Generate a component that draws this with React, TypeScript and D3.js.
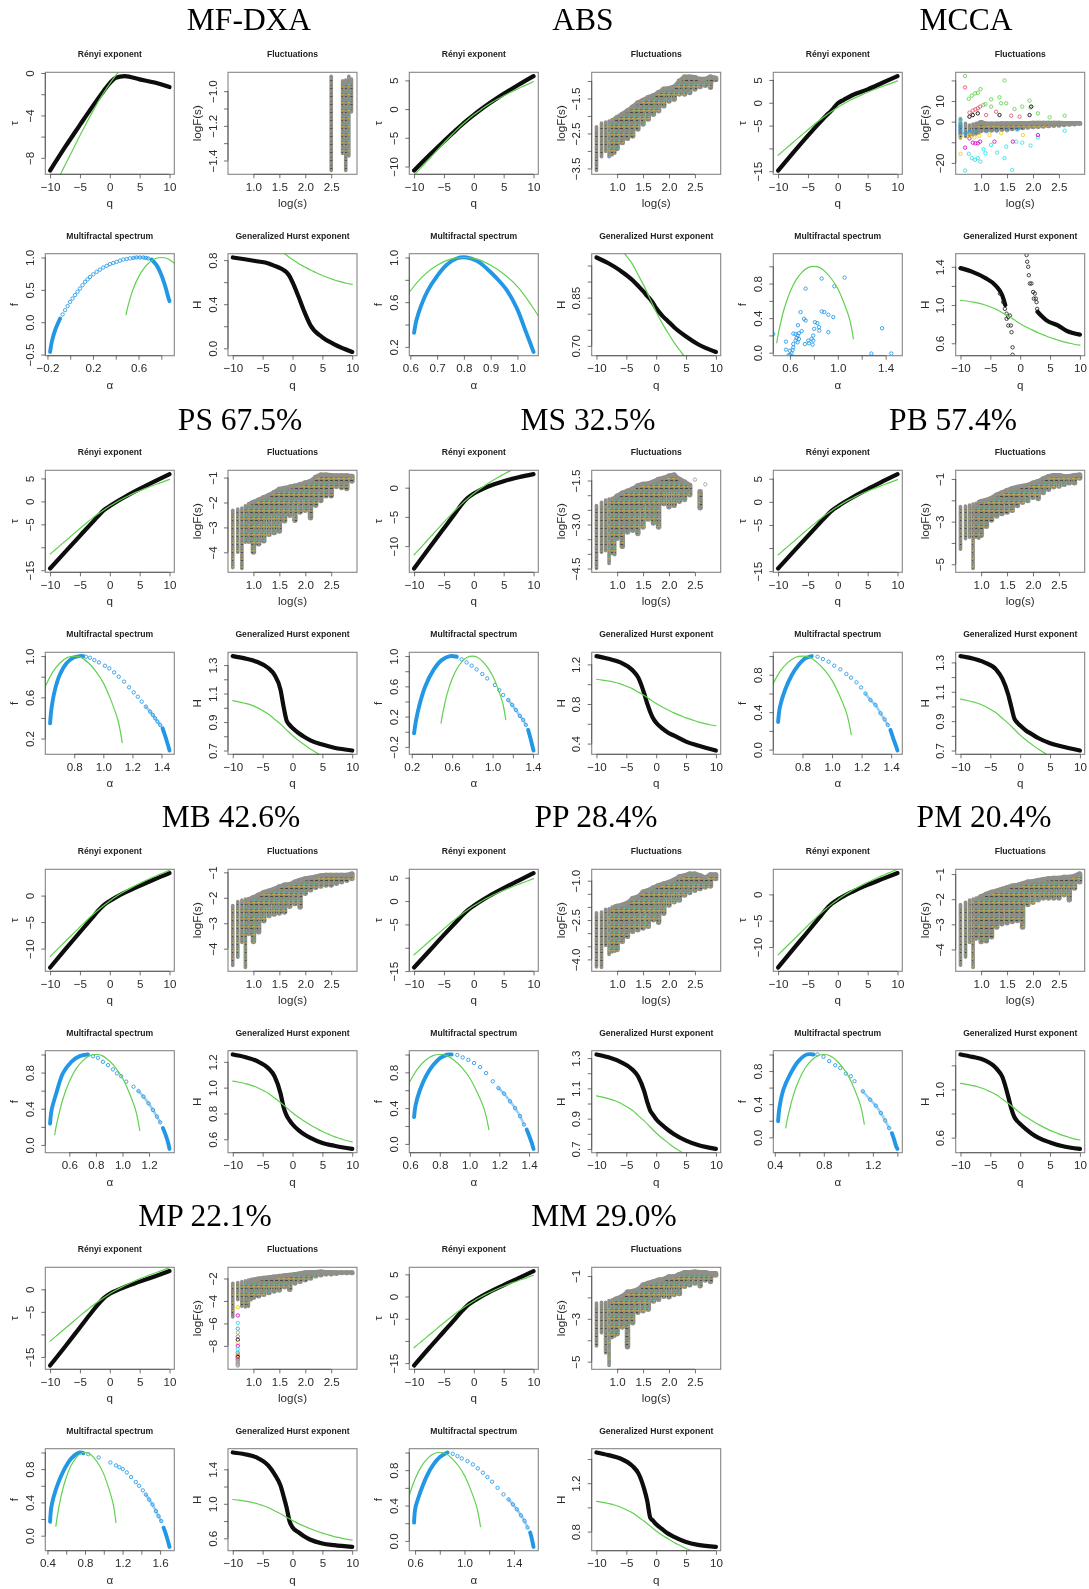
import React, { useEffect, useRef } from 'react';
import * as d3 from 'd3';

// R's default palette, the plots use it for rings and reference lines
const PALETTE = ['#000000', '#DF536B', '#61D04F', '#2297E6', '#28E2E5', '#CD0BBC', '#F5C710', '#9E9E9E'];

// ---- grids the curves are read on
const Q_HURST = [-10, -8, -6, -4, -3, -2, -1.5, -1, -0.5, 0, 1, 2, 3, 5, 7, 10];
const Q_TAU = [-10, -7.5, -5, -3, -2, -1, 0, 1, 2.5, 5, 7.5, 10];
const Q_REF = [-10, -9, -8, -7, -6, -5, -4, -3, -2, -1, 0, 1, 2, 3, 4, 5, 6, 7, 8, 9, 10];
const LOG_S = [0.602, 0.699, 0.778, 0.845, 0.903, 0.954, 1.0, 1.1, 1.2, 1.3, 1.4, 1.5, 1.6, 1.7, 1.8, 1.9, 2.0, 2.1, 2.2, 2.3, 2.4, 2.5, 2.6, 2.7, 2.8, 2.9];
const LOG_S_RANGE = [0.602, 2.905];

// ---- green reference curves, the same in every group
const REF_H = [1.05, 1.042, 1.032, 1.02, 1.003, 0.98, 0.955, 0.92, 0.885, 0.845, 0.805, 0.77, 0.74, 0.71, 0.685, 0.66, 0.64, 0.62, 0.605, 0.59, 0.58];
const REF_TAU = [-11.5, -10.38, -9.26, -8.14, -7.02, -5.9, -4.82, -3.76, -2.77, -1.855, -1.0, -0.23, 0.48, 1.13, 1.74, 2.3, 2.84, 3.34, 3.84, 4.31, 4.8];
const REF_ALPHA = [0.49, 0.5, 0.52, 0.55, 0.6, 0.65, 0.7, 0.75, 0.8, 0.85, 0.9, 0.95, 1.0, 1.05, 1.1, 1.13];
const REF_F = [0.115, 0.2, 0.33, 0.5, 0.7, 0.84, 0.93, 0.985, 1.0, 0.985, 0.93, 0.85, 0.74, 0.58, 0.38, 0.16];

// ---- MF-DXA
const MFDXA_TAU = [-9.2, -7.0, -4.9, -3.24, -2.44, -1.67, -0.95, -0.45, -0.29, -0.6, -0.9, -1.33];
const MFDXA_H = [0.824, 0.808, 0.79, 0.77, 0.748, 0.725, 0.71, 0.69, 0.655, 0.6, 0.47, 0.33, 0.21, 0.1, 0.036, -0.033];
const MFDXA_LOGS = [2.5, 2.72, 2.78, 2.84, 2.89];
const MFDXA_HI = [-0.913, -0.94, -0.935, -0.913, -0.93];
const MFDXA_LO = [-1.458, -1.36, -1.458, -1.375, -1.12];
const MFDXA_BAND_A = [-0.177, -0.162, -0.133, -0.089, NaN, 0.714, 0.758, 0.801, 0.836, 0.86, 0.872];
const MFDXA_BAND_F = [-0.459, -0.304, -0.124, 0.057, NaN, 0.969, 0.881, 0.727, 0.546, 0.392, 0.325];
const MFDXA_RING_A = [-0.067, -0.045, -0.023, -0.001, 0.02, 0.042, 0.064, 0.086, 0.108, 0.13, 0.152, 0.174, 0.203, 0.232, 0.261, 0.29, 0.32, 0.349, 0.378, 0.407, 0.437, 0.466, 0.495, 0.524, 0.553, 0.582, 0.612, 0.641, 0.663, 0.685];
const MFDXA_RING_F = [0.12, 0.186, 0.25, 0.314, 0.366, 0.418, 0.47, 0.52, 0.572, 0.624, 0.662, 0.7, 0.74, 0.778, 0.812, 0.845, 0.871, 0.897, 0.915, 0.933, 0.951, 0.969, 0.977, 0.985, 0.993, 1.0, 1.0, 1.0, 0.993, 0.985];

// ---- ABS
const ABS_TAU = [-10.7, -8.09, -5.6, -3.66, -2.73, -1.845, -1.0, -0.206, 0.92, 2.65, 4.25, 5.75];
const ABS_H = [0.975, 0.957, 0.934, 0.905, 0.886, 0.866, 0.855, 0.845, 0.832, 0.817, 0.794, 0.776, 0.758, 0.729, 0.705, 0.681];
const ABS_HI = [-2.31, -2.2, -2.17, -2.14, -2.1, -2.07, -2.02, -1.93, -1.83, -1.72, -1.6, -1.53, -1.45, -1.4, -1.31, -1.21, -1.19, -1.15, -0.98, -0.86, -0.86, -0.88, -0.93, -0.93, -0.86, -0.9];
const ABS_LO = [-3.56, -3.17, -3.02, -3.17, -3.12, -3.07, -2.96, -2.79, -2.67, -2.6, -2.4, -2.26, -2.12, -1.98, -1.88, -1.74, -1.6, -1.55, -1.4, -1.4, -1.36, -1.26, -1.19, -1.15, -1.21, -0.99];
const ABS_BAND_A = [0.614, 0.623, 0.641, 0.666, 0.698, 0.735, 0.773, 0.81, 0.848, 0.885, 0.923, 0.96, 0.998, 1.029, 1.048, 1.06];
const ABS_BAND_F = [0.327, 0.44, 0.574, 0.708, 0.827, 0.932, 0.991, 1.0, 0.97, 0.902, 0.813, 0.708, 0.545, 0.351, 0.232, 0.155];

// ---- MCCA
const MCCA_TAU = [-14.85, -10.98, -7.2, -4.3, -2.9, -1.6, -0.1, 0.65, 1.7, 2.93, 4.39, 5.85];
const MCCA_H_Q = [-10, -8, -6, -4, -3, -2.5, NaN, 2.9, 3.5, 4.4, 6.3, 7.7, 10];
const MCCA_H = [1.386, 1.347, 1.288, 1.196, 1.1, 1.0, NaN, 0.93, 0.89, 0.84, 0.787, 0.733, 0.69];
const MCCA_H_RING_Q = [-3.4, -2.84, -2.56, -2.28, -2, -1.73, -2.28, -2, -1.56, -1.45, -1.28, -1.28, 1.06, 1.17, 1.34, 1.45, 1.62, 1.89, 2.17, 2.28, 2.62, 2.73, 2.84, 2.45];
const MCCA_H_RING = [1.12, 1.03, 0.96, 0.91, 0.874, 0.89, 0.856, 0.786, 0.786, 0.716, 0.558, 0.48, 1.523, 1.453, 1.4, 1.312, 1.225, 1.225, 1.137, 1.067, 1.067, 1.03, 0.96, 1.12];
const MCCA_H_USR = [0.47, 1.537];
const MCCA_HI = [1.6, -0.8, -1.6, -1.1, -0.8, -0.5, 0, -0.8, -0.7, -0.7, -0.6, -0.6, -0.6, -0.5, -0.5, -0.5, -0.4, -0.4, -0.4, -0.4, -0.4, -0.4, -0.5, -0.5, -0.5, -0.5];
const MCCA_LO = [-8, -7.2, -6.8, -6.5, -6, -5.4, -4.8, -4.6, -4.5, -4.3, -4.2, -4, -3.8, -3.6, -3.4, -3.1, -2.9, -2.8, -2.6, -2.4, -2.2, -2.1, -1.9, -1.7, -1.5, -1.3];
const MCCA_GREEN_S = [0.691, 0.762, 0.82, 0.884, 0.936, 0.987, 1.045, 1.084, 1.193, 1.193, 1.354, 1.386, 1.483, 1.451, 1.644, 1.792, 1.934, 1.953, 2.095, 2.32, 2.61];
const MCCA_GREEN_F = [22.1, 11.1, 12.6, 13.7, 14.0, 15.8, 8.1, 8.5, 10.8, 7.3, 11.8, 8.9, 8.9, 20.0, 6.1, 7.3, 10.2, 6.9, 4.0, 2.1, 2.9];
const MCCA_RED_S = [0.691, 0.775, 0.839, 0.891, 0.936, 0.981, 1.097, 1.29, 1.58, 1.741];
const MCCA_RED_F = [16.6, 4.4, 5.3, 6.0, 6.5, 7.3, 3.2, 4.8, 2.9, 2.4];
const MCCA_BLACK_S = [0.775, 0.839, 0.936, 1.354, 1.966, 1.934];
const MCCA_BLACK_F = [2.4, 3.2, 4.0, 3.2, 7.3, 3.2];
const MCCA_CYAN_S = [0.602, 0.602, 0.691, 0.762, 0.82, 0.884, 0.936, 0.987, 1.045, 1.084, 1.193, 1.309, 1.451, 1.483, 1.676, 1.792, 1.953, 1.599, 2.095, 2.61];
const MCCA_CYAN_F = [1.0, -0.6, -23.7, -15.6, -17.7, -18.5, -17.7, -19.4, -13.4, -15.3, -11.3, -15, -17.7, -12.1, -9.7, -10.2, -11.6, -23.4, -7.6, -4.4];
const MCCA_BLUE_S = [0.602, 0.602, 0.602, 0.602, 0.602, 0.699, 0.778, 0.903, 1.1, 1.3, 1.5, 1.7];
const MCCA_BLUE_F = [-1.8, -2.8, -3.8, -4.8, -5.8, -5.5, -5, -4.8, -4.6, -4.4, -4.2, -3.8];
const MCCA_MAGENTA_S = [0.691, 0.775, 0.839, 0.891, 0.936, 0.981, 1.258, 1.612, 2.095];
const MCCA_MAGENTA_F = [-12.6, -8.1, -10.2, -10.5, -10.5, -9.7, -9.7, -9.7, -6.5];
const MCCA_YELLOW_S = [0.602, 0.602, 0.775, 0.871, 0.968, 1.161, 1.386, 1.805];
const MCCA_YELLOW_F = [-15.6, -7.2, -6.5, -7.6, -6.9, -6.5, -5.6, -6.5];
const MCCA_RING_A = [0.46, 0.567, 0.567, 0.6, 0.589, 0.731, 0.865, 1.057, 0.971, 0.689, 0.717, 0.731, 0.667, 1.447, 1.28, 1.37, 0.759, 0.725, 0.753, 0.781, 0.795, 0.803, 0.809, 0.829, 0.845, 0.843, 0.865, 0.887, 0.921, 0.962, 0.921, 0.795, 0.79, 0.628, 0.622, 0.614, 0.628, 0.647, 0.656, 0.675, 0.664, 0.628, 0.647, 0.675, 0.698, 0.664, 0.6];
const MCCA_RING_F = [0.217, 0.128, 0.035, 0.023, -0.03, 0.742, 0.858, 0.87, 0.769, 0.47, 0.392, 0.373, 0.318, -0.01, -0.01, 0.283, 0.109, 0.1, 0.14, 0.16, 0.198, 0.276, 0.353, 0.342, 0.256, 0.295, 0.478, 0.47, 0.439, 0.412, 0.237, 0.14, 0.093, 0.062, 0.031, -0.008, 0.1, 0.14, 0.171, 0.159, 0.12, 0.221, 0.217, 0.225, 0.249, 0.198, -0.023];
const MCCA_ALPHA_USR = [0.461, 1.539];
const MCCA_F_USR = [-0.035, 1.146];

// ---- PS 67.5%
const PS_TAU = [-14.63, -11.05, -7.5, -4.69, -3.25, -1.91, -1.0, -0.18, 0.96, 2.71, 4.36, 5.95];
const PS_H = [1.363, 1.347, 1.323, 1.277, 1.23, 1.126, 1.01, 0.912, 0.88, 0.858, 0.823, 0.795, 0.772, 0.742, 0.719, 0.7];
const PS_HI = [-2.31, -2.26, -2.22, -2.13, -2.05, -2.0, -1.96, -1.87, -1.77, -1.68, -1.57, -1.44, -1.4, -1.35, -1.31, -1.25, -1.18, -1.12, -0.96, -0.86, -0.86, -0.88, -0.89, -0.89, -0.89, -0.92];
const PS_LO = [-4.62, -4.0, -4.65, -3.6, -3.6, -3.6, -4.03, -3.7, -3.58, -3.32, -3.25, -3.19, -2.78, -2.55, -2.75, -2.42, -2.35, -2.65, -2.15, -1.96, -1.77, -1.77, -1.4, -1.44, -1.48, -1.18];
const PS_BAND_A = [0.634, 0.644, 0.667, 0.7, 0.747, 0.793, 0.839, 0.862, NaN, 1.407, 1.421, 1.437, 1.455];
const PS_BAND_F = [0.348, 0.494, 0.67, 0.816, 0.93, 0.984, 1.0, 1.0, NaN, 0.3, 0.242, 0.171, 0.084];
const PS_RING_A = [0.88, 0.908, 0.938, 0.97, 1.011, 1.041, 1.074, 1.106, 1.143, 1.177, 1.209, 1.237, 1.264, 1.292, 1.322, 1.34, 1.356, 1.372, 1.391];
const PS_RING_F = [0.994, 0.984, 0.961, 0.939, 0.906, 0.881, 0.842, 0.8, 0.752, 0.697, 0.648, 0.606, 0.558, 0.51, 0.461, 0.429, 0.397, 0.365, 0.332];

// ---- MS 32.5%
const MS_TAU = [-13.84, -10.37, -6.95, -4.2, -2.81, -1.72, -1.0, -0.45, 0.24, 1.1, 1.78, 2.33];
const MS_H = [1.284, 1.257, 1.22, 1.143, 1.066, 0.904, 0.803, 0.72, 0.653, 0.61, 0.553, 0.51, 0.48, 0.42, 0.38, 0.33];
const MS_HI = [-2.35, -2.24, -2.16, -2.13, -2.1, -2.07, -2.0, -1.9, -1.83, -1.76, -1.65, -1.6, -1.58, -1.52, -1.43, -1.39, -1.32, -1.28, -1.43, -1.52, -1.63, -1.47, -1.85, -1.63, NaN, NaN];
const MS_LO = [-4.5, -3.95, -3.9, -4.33, -4.0, -4.03, -3.5, -3.78, -3.29, -3.23, -3.34, -3.12, -2.85, -2.98, -3.12, -2.32, -2.43, -2.38, -2.24, -2.18, -2.02, -1.47, -2.46, -1.63, NaN, NaN];
const MS_BAND_A = [0.223, 0.24, 0.276, 0.332, 0.414, 0.496, 0.58, 0.645, NaN, 1.352, 1.375, 1.395, 1.405];
const MS_BAND_F = [-0.02, 0.134, 0.354, 0.596, 0.815, 0.947, 1.0, 0.991, NaN, 0.024, -0.086, -0.196, -0.248];
const MS_RING_A = [0.694, 0.743, 0.793, 0.842, 0.898, 0.947, 1.023, 1.066, 1.105, 1.155, 1.194, 1.23, 1.27, 1.303, 1.329];
const MS_RING_F = [0.956, 0.916, 0.873, 0.824, 0.763, 0.705, 0.618, 0.552, 0.486, 0.42, 0.354, 0.288, 0.209, 0.156, 0.09];

// ---- PB 57.4%
const PB_TAU = [-14.43, -10.9, -7.38, -4.57, -3.16, -1.92, -1.0, -0.165, 0.99, 2.75, 4.4, 6.0];
const PB_H = [1.343, 1.327, 1.3, 1.25, 1.19, 1.08, 1.0, 0.92, 0.89, 0.87, 0.835, 0.81, 0.785, 0.75, 0.727, 0.7];
const PB_HI = [-2.29, -2.26, -2.22, -2.17, -2.14, -2.06, -2.02, -1.96, -1.87, -1.71, -1.61, -1.5, -1.41, -1.35, -1.3, -1.26, -1.15, -1.08, -0.95, -0.85, -0.8, -0.8, -0.85, -0.85, -0.8, -0.77];
const PB_LO = [-4.3, -3.81, -3.74, -5.2, -3.74, -3.78, -3.69, -3.27, -2.97, -2.78, -2.67, -2.6, -2.52, -2.29, -2.14, -2.06, -1.91, -1.96, -1.68, -1.53, -1.41, -1.38, -1.3, -1.23, -1.23, -1.0];
const PB_BAND_A = [0.635, 0.648, 0.682, 0.728, 0.773, 0.818, 0.863, NaN, 1.395, 1.414, 1.43, 1.443];
const PB_BAND_F = [0.295, 0.46, 0.637, 0.797, 0.904, 0.975, 1.0, NaN, 0.21, 0.12, 0.05, -0.01];
const PB_RING_A = [0.902, 0.938, 0.977, 1.015, 1.056, 1.097, 1.128, 1.165, 1.196, 1.226, 1.26, 1.294, 1.328, 1.355, 1.377];
const PB_RING_F = [0.993, 0.968, 0.94, 0.897, 0.858, 0.808, 0.769, 0.719, 0.665, 0.6, 0.53, 0.477, 0.388, 0.324, 0.263];

// ---- MB 42.6%
const MB_TAU = [-13.57, -10.2, -6.9, -4.26, -2.91, -1.785, -1.0, -0.33, 0.55, 1.85, 3.09, 4.25];
const MB_H = [1.257, 1.238, 1.207, 1.148, 1.088, 0.955, 0.85, 0.785, 0.747, 0.716, 0.67, 0.636, 0.61, 0.57, 0.55, 0.525];
const MB_HI = [-2.3, -2.14, -2.09, -2.05, -2.03, -2.0, -1.96, -1.86, -1.76, -1.7, -1.63, -1.54, -1.47, -1.45, -1.35, -1.28, -1.22, -1.19, -1.15, -1.1, -1.08, -1.08, -1.08, -1.08, -1.08, -1.03];
const MB_LO = [-4.66, -4.34, -3.76, -4.74, -3.44, -3.44, -3.76, -3.38, -2.94, -2.74, -2.68, -2.64, -2.6, -2.37, -2.27, -2.4, -1.86, -1.73, -1.63, -1.58, -1.54, -1.54, -1.47, -1.41, -1.35, -1.28];
const MB_BAND_A = [0.455, 0.467, 0.502, 0.552, 0.615, 0.678, 0.74, NaN, 1.304, 1.324, 1.344, 1.354];
const MB_BAND_F = [0.235, 0.39, 0.573, 0.794, 0.919, 0.982, 1.0, NaN, 0.187, 0.114, 0.022, -0.044];
const MB_RING_A = [0.778, 0.815, 0.853, 0.891, 0.928, 0.958, 0.99, 1.028, 1.083, 1.12, 1.158, 1.196, 1.229, 1.259, 1.284];
const MB_RING_F = [0.98, 0.963, 0.919, 0.882, 0.835, 0.791, 0.76, 0.7, 0.644, 0.596, 0.534, 0.46, 0.387, 0.314, 0.25];

// ---- PP 28.4%
const PP_TAU = [-14.24, -10.75, -7.25, -4.53, -3.16, -1.95, -1.0, -0.14, 1.03, 2.78, 4.4, 6.0];
const PP_H = [1.324, 1.305, 1.275, 1.225, 1.177, 1.08, 1.01, 0.953, 0.924, 0.896, 0.858, 0.825, 0.797, 0.755, 0.726, 0.7];
const PP_HI = [-2.22, -2.19, -2.09, -2.07, -2.0, -1.97, -1.94, -1.9, -1.82, -1.65, -1.59, -1.4, -1.34, -1.24, -1.15, -1.09, -1.03, -0.94, -0.82, -0.78, -0.71, -0.71, -0.78, -0.86, -0.74, -0.74];
const PP_LO = [-4.29, -4.31, -3.47, -3.82, -3.72, -3.69, -3.66, -3.35, -3.16, -2.97, -2.91, -2.84, -2.78, -2.53, -2.62, -2.28, -1.97, -1.84, -1.78, -1.59, -1.49, -1.4, -1.34, -1.28, -1.24, -0.96];
const PP_BAND_A = [0.627, 0.638, 0.667, 0.712, 0.757, 0.802, 0.847, 0.88, NaN, 1.384, 1.402, 1.418, 1.43];
const PP_BAND_F = [0.3, 0.44, 0.606, 0.774, 0.885, 0.96, 0.997, 1.0, NaN, 0.16, 0.086, 0.011, -0.056];
const PP_RING_A = [0.918, 0.954, 0.992, 1.03, 1.071, 1.111, 1.156, 1.194, 1.232, 1.272, 1.306, 1.339, 1.366];
const PP_RING_F = [0.995, 0.967, 0.94, 0.904, 0.859, 0.792, 0.7, 0.625, 0.562, 0.476, 0.4, 0.31, 0.216];

// ---- PM 20.4%
const PM_TAU = [-13.9, -10.45, -7.05, -4.3, -2.88, -1.77, -1.0, -0.33, 0.53, 1.8, 2.94, 4.05];
const PM_H = [1.29, 1.27, 1.243, 1.174, 1.105, 0.94, 0.843, 0.773, 0.738, 0.713, 0.668, 0.63, 0.6, 0.56, 0.53, 0.506];
const PM_HI = [-2.21, -2.12, -2.03, -1.99, -1.95, -1.93, -1.86, -1.77, -1.69, -1.64, -1.57, -1.51, -1.44, -1.41, -1.35, -1.28, -1.26, -1.22, -1.18, -1.15, -1.13, -1.13, -1.09, -1.09, -1.05, -0.96];
const PM_LO = [-4.63, -4.31, -3.73, -4.72, -3.6, -3.54, -3.73, -3.7, -3.54, -3.15, -3.02, -2.98, -2.93, -2.89, -3.15, -2.25, -2.16, -2.06, -1.99, -1.99, -1.99, -1.99, -1.86, -2.06, -1.6, -1.35];
const PM_BAND_A = [0.427, 0.438, 0.471, 0.525, 0.593, 0.661, 0.716, NaN, 1.355, 1.374, 1.39, 1.401];
const PM_BAND_F = [0.194, 0.356, 0.578, 0.76, 0.92, 1.0, 1.0, NaN, 0.05, -0.03, -0.11, -0.14];
const PM_RING_A = [0.748, 0.797, 0.844, 0.893, 0.934, 0.98, 1.02, 1.05, 1.118, 1.178, 1.224, 1.265, 1.3, 1.333];
const PM_RING_F = [1.0, 0.972, 0.92, 0.87, 0.838, 0.77, 0.738, 0.677, 0.556, 0.455, 0.382, 0.293, 0.204, 0.111];

// ---- MP 22.1%
const MP_TAU = [-16.9, -12.74, -8.45, -5.03, -3.42, -1.96, -1.0, -0.33, 0.5, 1.7, 2.86, 4.04];
const MP_H = [1.595, 1.575, 1.537, 1.44, 1.343, 1.21, 1.09, 0.96, 0.8, 0.726, 0.67, 0.62, 0.583, 0.54, 0.52, 0.5];
const MP_HI = [-2.43, -2.35, -2.26, -2.2, -2.14, -2.09, -2.06, -1.97, -1.91, -1.86, -1.8, -1.74, -1.68, -1.63, -1.57, -1.51, -1.42, -1.4, -1.4, -1.34, -1.4, -1.4, -1.42, -1.42, -1.42, -1.42];
const MP_LO = [-5.43, -3.9, -4.49, -4.55, -4.49, -3.91, -3.77, -3.64, -3.5, -3.35, -3.2, -3.12, -2.83, -3.06, -2.49, -2.35, -2.2, -2.06, -1.86, -1.77, -1.68, -1.68, -1.63, -1.57, -1.57, -1.57];
const MP_TAIL_S = [0.699, 0.699, 0.699, 0.699, 0.699, 0.699, 0.699, 0.699, 0.699, 0.699, 0.699, 0.699, 0.699, 0.699, 0.699, 0.699, 0.699, 0.699, 0.699, 0.699, 0.699, 0.699];
const MP_TAIL_F = [-4.56, -5.29, -5.95, -6.47, -6.81, -7.16, -7.45, -7.73, -8.0, -8.3, -8.6, -8.75, -8.9, -9.0, -9.1, -9.2, -9.3, -9.4, -9.5, -9.6, -9.7, -9.75];
const MP_TAIL_COLOR = [6, 5, 4, 3, 2, 1, 0, 6, 5, 4, 3, 2, 1, 0, 6, 5, 7, 7, 7, 7, 7, 7];
const MP_BAND_A = [0.428, 0.443, 0.489, 0.568, 0.657, 0.746, 0.782, NaN, 1.637, 1.662, 1.683, 1.7];
const MP_BAND_F = [0.167, 0.355, 0.554, 0.773, 0.932, 1.0, 0.992, NaN, 0.096, 0.016, -0.064, -0.135];
const MP_RING_A = [0.835, 0.945, 1.07, 1.13, 1.166, 1.202, 1.245, 1.291, 1.341, 1.376, 1.416, 1.448, 1.483, 1.519, 1.555, 1.583, 1.612];
const MP_RING_F = [0.98, 0.94, 0.88, 0.844, 0.823, 0.8, 0.76, 0.705, 0.645, 0.6, 0.545, 0.494, 0.434, 0.375, 0.295, 0.235, 0.175];

// ---- MM 29.0%
const MM_TAU = [-15.54, -11.65, -7.88, -4.85, -3.3, -1.92, -1.0, -0.18, 0.93, 2.57, 4.14, 5.73];
const MM_H = [1.454, 1.432, 1.404, 1.343, 1.283, 1.15, 1.054, 0.916, 0.888, 0.86, 0.82, 0.783, 0.756, 0.714, 0.69, 0.673];
const MM_HI = [-2.26, -2.22, -2.22, -2.14, -2.11, -2.06, -2.02, -1.91, -1.71, -1.68, -1.6, -1.38, -1.3, -1.23, -1.15, -1.11, -1.0, -1.0, -0.89, -0.8, -0.8, -0.77, -0.8, -0.8, -0.85, -0.85];
const MM_LO = [-4.27, -3.66, -4.6, -5.18, -3.89, -3.81, -3.74, -3.43, -4.35, -3.23, -2.74, -2.67, -2.6, -2.22, -2.14, -1.99, -2.02, -1.91, -1.87, -1.53, -1.46, -1.38, -1.5, -1.23, -1.3, -1.0];
const MM_BAND_A = [0.592, 0.603, 0.641, 0.695, 0.749, 0.803, 0.862, NaN, 1.532, 1.546, 1.559];
const MM_BAND_F = [0.207, 0.376, 0.545, 0.733, 0.865, 0.951, 1.0, NaN, 0.094, 0.019, -0.068];
const MM_RING_A = [0.905, 0.943, 0.978, 1.024, 1.068, 1.108, 1.149, 1.186, 1.224, 1.268, 1.316, 1.357, 1.392, 1.424, 1.457, 1.486, 1.511];
const MM_RING_F = [0.985, 0.959, 0.932, 0.902, 0.865, 0.82, 0.771, 0.722, 0.669, 0.6, 0.526, 0.47, 0.413, 0.357, 0.289, 0.226, 0.15];

// ---- tick sets: every tick, then the ones that keep a label
const tk = (ticks: number[], labels: number[] = ticks) => ({ ticks, labels });
const Q_TICKS = tk([-10, -5, 0, 5, 10]);
const LOG_TICKS = tk([1, 1.5, 2, 2.5]);
const TAU_15 = tk([-15, -10, -5, 0, 5], [-15, -5, 0, 5]);
const TAU_10 = tk([-10, -5, 0]);
const F_02 = tk([0, 0.2, 0.4, 0.6, 0.8, 1], [0, 0.4, 0.8]);
const H_13 = tk([0.7, 0.8, 0.9, 1, 1.1, 1.2, 1.3], [0.7, 0.9, 1.1, 1.3]);

// ---- page layout
const COL_LEFT = [[45.3, 228], [409.3, 591.7], [773.3, 955.7]];
const ROW_TOP = [[72.3, 253.7], [470.3, 652.3], [869.3, 1050.7], [1267.3, 1448.7]];
const TITLE_BASE = [30, 429.5, 826.7, 1226];
const BOX_W = 129;
const BOX_H = 102;

const GROUPS: any[] = [
  { name: 'MF-DXA', tx: 249, row: 0, col: 0, tau: MFDXA_TAU, h: MFDXA_H, logs: MFDXA_LOGS, hi: MFDXA_HI, lo: MFDXA_LO, ba: MFDXA_BAND_A, bf: MFDXA_BAND_F, ra: MFDXA_RING_A, rf: MFDXA_RING_F,
    tauT: tk([-8, -6, -4, -2, 0], [-8, -4, 0]), logT: tk([-1.4, -1.3, -1.2, -1.1, -1], [-1.4, -1.2, -1]), aT: tk([-0.2, 0, 0.2, 0.4, 0.6, 0.8], [-0.2, 0.2, 0.6]), fT: tk([-0.5, 0, 0.5, 1]), hT: tk([0, 0.2, 0.4, 0.6, 0.8], [0, 0.4, 0.8]) },
  { name: 'ABS', tx: 583, row: 0, col: 1, tau: ABS_TAU, h: ABS_H, hi: ABS_HI, lo: ABS_LO, ba: ABS_BAND_A, bf: ABS_BAND_F, ra: [], rf: [],
    tauT: tk([-10, -5, 0, 5]), logT: tk([-3.5, -3, -2.5, -2, -1.5, -1], [-3.5, -2.5, -1.5]), aT: tk([0.6, 0.7, 0.8, 0.9, 1]), fT: tk([0.2, 0.4, 0.6, 0.8, 1], [0.2, 0.6, 1]), hT: tk([0.7, 0.75, 0.8, 0.85, 0.9, 0.95], [0.7, 0.85]) },
  { name: 'MCCA', tx: 966, row: 0, col: 2, tau: MCCA_TAU, h: MCCA_H, hq: MCCA_H_Q, hrq: MCCA_H_RING_Q, hr: MCCA_H_RING, hUsr: MCCA_H_USR, hi: MCCA_HI, lo: MCCA_LO, ba: [], bf: [], ra: MCCA_RING_A, rf: MCCA_RING_F, aUsr: MCCA_ALPHA_USR, fUsr: MCCA_F_USR,
    scatter: [[2, MCCA_GREEN_S, MCCA_GREEN_F], [1, MCCA_RED_S, MCCA_RED_F], [0, MCCA_BLACK_S, MCCA_BLACK_F], [4, MCCA_CYAN_S, MCCA_CYAN_F], [3, MCCA_BLUE_S, MCCA_BLUE_F], [5, MCCA_MAGENTA_S, MCCA_MAGENTA_F], [6, MCCA_YELLOW_S, MCCA_YELLOW_F]],
    tauT: TAU_15, logT: tk([-20, -10, 0, 10, 20], [-20, 0, 10]), aT: tk([0.6, 0.8, 1, 1.2, 1.4], [0.6, 1, 1.4]), fT: F_02, hT: tk([0.6, 0.8, 1, 1.2, 1.4], [0.6, 1, 1.4]) },
  { name: 'PS 67.5%', tx: 240, row: 1, col: 0, tau: PS_TAU, h: PS_H, hi: PS_HI, lo: PS_LO, ba: PS_BAND_A, bf: PS_BAND_F, ra: PS_RING_A, rf: PS_RING_F,
    tauT: TAU_15, logT: tk([-4, -3, -2, -1]), aT: tk([0.8, 1, 1.2, 1.4]), fT: tk([0.2, 0.4, 0.6, 0.8, 1], [0.2, 0.6, 1]), hT: H_13 },
  { name: 'MS 32.5%', tx: 588, row: 1, col: 1, tau: MS_TAU, h: MS_H, hi: MS_HI, lo: MS_LO, ba: MS_BAND_A, bf: MS_BAND_F, ra: MS_RING_A, rf: MS_RING_F,
    tauT: TAU_10, logT: tk([-4.5, -4, -3.5, -3, -2.5, -2, -1.5], [-4.5, -3, -1.5]), aT: tk([0.2, 0.4, 0.6, 0.8, 1, 1.2, 1.4], [0.2, 0.6, 1, 1.4]), fT: tk([-0.2, 0, 0.2, 0.4, 0.6, 0.8, 1], [-0.2, 0.2, 0.6, 1]), hT: tk([0.4, 0.6, 0.8, 1, 1.2], [0.4, 0.8, 1.2]) },
  { name: 'PB 57.4%', tx: 953, row: 1, col: 2, tau: PB_TAU, h: PB_H, hi: PB_HI, lo: PB_LO, ba: PB_BAND_A, bf: PB_BAND_F, ra: PB_RING_A, rf: PB_RING_F,
    tauT: TAU_15, logT: tk([-5, -4, -3, -2, -1], [-5, -3, -1]), aT: tk([0.8, 1, 1.2, 1.4]), fT: F_02, hT: H_13 },
  { name: 'MB 42.6%', tx: 231, row: 2, col: 0, tau: MB_TAU, h: MB_H, hi: MB_HI, lo: MB_LO, ba: MB_BAND_A, bf: MB_BAND_F, ra: MB_RING_A, rf: MB_RING_F,
    tauT: TAU_10, logT: tk([-4, -3, -2, -1]), aT: tk([0.6, 0.8, 1, 1.2]), fT: F_02, hT: tk([0.6, 0.8, 1, 1.2]) },
  { name: 'PP 28.4%', tx: 596, row: 2, col: 1, tau: PP_TAU, h: PP_H, hi: PP_HI, lo: PP_LO, ba: PP_BAND_A, bf: PP_BAND_F, ra: PP_RING_A, rf: PP_RING_F,
    tauT: TAU_15, logT: tk([-4, -3.5, -3, -2.5, -2, -1.5, -1], [-4, -2.5, -1]), aT: tk([0.6, 0.8, 1, 1.2, 1.4]), fT: F_02, hT: H_13 },
  { name: 'PM 20.4%', tx: 984, row: 2, col: 2, tau: PM_TAU, h: PM_H, hi: PM_HI, lo: PM_LO, ba: PM_BAND_A, bf: PM_BAND_F, ra: PM_RING_A, rf: PM_RING_F,
    tauT: TAU_10, logT: tk([-4, -3, -2, -1]), aT: tk([0.4, 0.6, 0.8, 1, 1.2, 1.4], [0.4, 0.8, 1.2]), fT: F_02, hT: tk([0.6, 0.8, 1, 1.2], [0.6, 1]) },
  { name: 'MP 22.1%', tx: 205, row: 3, col: 0, tau: MP_TAU, h: MP_H, hi: MP_HI, lo: MP_LO, ba: MP_BAND_A, bf: MP_BAND_F, ra: MP_RING_A, rf: MP_RING_F, tail: [MP_TAIL_S, MP_TAIL_F, MP_TAIL_COLOR],
    tauT: tk([-15, -10, -5, 0], [-15, -5, 0]), logT: tk([-8, -6, -4, -2]), aT: tk([0.4, 0.6, 0.8, 1, 1.2, 1.4, 1.6], [0.4, 0.8, 1.2, 1.6]), fT: F_02, hT: tk([0.6, 0.8, 1, 1.2, 1.4], [0.6, 1, 1.4]) },
  { name: 'MM 29.0%', tx: 604, row: 3, col: 1, tau: MM_TAU, h: MM_H, hi: MM_HI, lo: MM_LO, ba: MM_BAND_A, bf: MM_BAND_F, ra: MM_RING_A, rf: MM_RING_F,
    tauT: TAU_15, logT: tk([-5, -4, -3, -2, -1], [-5, -3, -1]), aT: tk([0.6, 0.8, 1, 1.2, 1.4], [0.6, 1, 1.4]), fT: F_02, hT: tk([0.8, 1, 1.2, 1.4], [0.8, 1.2]) },
];

// R's xaxs="r": the limits run 4% past the data
const pad = (vals: number[]) => {
  const [a, b] = d3.extent(vals) as [number, number];
  return [a - 0.04 * (b - a), b + 0.04 * (b - a)];
};

const decimals = (labels: number[]) => d3.max(labels, (v) => (String(v).split('.')[1] || '').length) as number;

let clipId = 0;

// box, axes and titles of one base R plot; returns a clipped group to draw in
function frame(root: any, x0: number, y0: number, xDom: number[], yDom: number[], xT: any, yT: any, title: string, xLab: string, yLab: string) {
  const x = d3.scaleLinear().domain(xDom).range([x0, x0 + BOX_W]);
  const y = d3.scaleLinear().domain(yDom).range([y0 + BOX_H, y0]);
  const id = `clip${clipId++}`;
  root.append('clipPath').attr('id', id).append('rect').attr('x', x0).attr('y', y0).attr('width', BOX_W).attr('height', BOX_H);
  const plot = root.append('g').attr('clip-path', `url(#${id})`);

  const after = root.append('g');
  after.append('rect').attr('x', x0).attr('y', y0).attr('width', BOX_W).attr('height', BOX_H)
    .attr('fill', 'none').attr('stroke', '#858585').attr('stroke-width', 1.1);

  const fmt = (spec: any) => {
    const f = d3.format(`.${decimals(spec.labels)}f`);
    return (v: any) => (spec.labels.includes(v) ? f(v) : '');
  };

  const xAxis = after.append('g').attr('transform', `translate(0,${y0 + BOX_H})`)
    .call(d3.axisBottom(x).tickValues(xT.ticks).tickFormat(fmt(xT)).tickSize(4).tickPadding(4));
  const yAxis = after.append('g').attr('transform', `translate(${x0},0)`)
    .call(d3.axisLeft(y).tickValues(yT.ticks).tickFormat(fmt(yT)).tickSize(4));

  xAxis.select('.domain').attr('d', `M${x(xT.ticks[0])},0H${x(xT.ticks[xT.ticks.length - 1])}`);
  yAxis.select('.domain').attr('d', `M0,${y(yT.ticks[0])}V${y(yT.ticks[yT.ticks.length - 1])}`);
  for (const a of [xAxis, yAxis]) {
    a.selectAll('line,.domain').attr('stroke', '#4d4d4d').attr('stroke-width', 0.8);
    a.selectAll('text').attr('font-family', '"Liberation Sans"').attr('font-size', 11.6).attr('fill', '#2b2b2b');
  }
  yAxis.selectAll('text').attr('transform', 'rotate(-90)').attr('x', 0).attr('y', -11.4).attr('dy', 0).attr('text-anchor', 'middle');

  const label = (tx: number, ty: number, s: string, rot = false) =>
    after.append('text').attr('transform', `translate(${tx},${ty})${rot ? ' rotate(-90)' : ''}`).attr('text-anchor', 'middle')
      .attr('font-family', '"Liberation Sans"').attr('font-size', 11.6).attr('fill', '#2b2b2b').text(s);
  label(x0 + BOX_W / 2, y0 + BOX_H + 33, xLab);
  label(x0 - 27, y0 + BOX_H / 2, yLab, true);
  after.append('text').attr('x', x0 + BOX_W / 2).attr('y', y0 - 15).attr('text-anchor', 'middle')
    .attr('font-family', '"Liberation Sans"').attr('font-weight', 'bold').attr('font-size', 8.6).attr('fill', '#222').text(title);
  return { plot, x, y };
}

function drawCurve(plot: any, xs: number[], ys: number[], x: any, y: any, color: string, width: number, curve: any, opacity = 1) {
  const pts = xs.map((v, i) => [v, ys[i]]);
  const line = d3.line<any>().defined((d) => !isNaN(d[0]) && !isNaN(d[1])).x((d) => x(d[0])).y((d) => y(d[1])).curve(curve);
  plot.append('path').attr('d', line(pts)).attr('fill', 'none').attr('stroke', color).attr('stroke-width', width)
    .attr('stroke-linecap', 'round').attr('stroke-linejoin', 'round').attr('opacity', opacity);
}

function drawRings(plot: any, xs: number[], ys: number[], x: any, y: any, color: any) {
  plot.selectAll(null).data(xs.map((v, i) => [v, ys[i], i])).enter().append('circle')
    .attr('cx', (d: any) => x(d[0])).attr('cy', (d: any) => y(d[1])).attr('r', 1.7)
    .attr('fill', 'none').attr('stroke', (d: any) => (typeof color === 'string' ? color : color(d[2]))).attr('stroke-width', 0.85);
}

function drawGroup(root: any, g: any) {
  const [xa, xb] = COL_LEFT[g.col];
  const [ya, yb] = ROW_TOP[g.row];
  root.append('text').attr('x', g.tx).attr('y', TITLE_BASE[g.row]).attr('text-anchor', 'middle')
    .attr('font-family', '"Liberation Serif"').attr('font-size', 31.5).attr('fill', '#000').text(g.name);

  // Renyi exponent
  const tauP = frame(root, xa, ya, pad(Q_TICKS.ticks), pad(g.tau), Q_TICKS, g.tauT, 'Rényi exponent', 'q', 'τ');
  drawCurve(tauP.plot, Q_TAU, g.tau, tauP.x, tauP.y, '#0c0c0c', 4.2, d3.curveMonotoneX);
  drawCurve(tauP.plot, Q_REF, REF_TAU, tauP.x, tauP.y, PALETTE[2], 1.2, d3.curveMonotoneX);

  // Fluctuations: one column of rings per scale
  const logs: number[] = g.logs || LOG_S;
  const scatter: any[] = g.scatter || [];
  const tail = g.tail;
  const allF = [...g.hi, ...g.lo, ...scatter.flatMap((s) => s[2]), ...(tail ? tail[1] : [])];
  const flP = frame(root, xb, ya, pad(LOG_S_RANGE), pad(allF), LOG_TICKS, g.logT, 'Fluctuations', 'log(s)', 'logF(s)');
  const cols = logs.map((s, i) => ({ s, i, hi: g.hi[i], lo: g.lo[i] })).filter((c) => !isNaN(c.hi));
  const widthOf = (c: any) => {
    if (c.s < 0.95) return 3.6;
    const next = logs[c.i + 1] ?? c.s + (c.s - logs[c.i - 1]);
    return next - c.s > 0.15 ? 3.6 : Math.max(3.6, flP.x(next) - flP.x(c.s) + 0.3);
  };
  const solid = cols.filter((c) => c.hi !== c.lo);

  // the upper edge of the merged part runs smoothly from column to column
  const merged = g.logs ? [] : solid.filter((c) => c.s >= 0.95 && (isNaN(g.hi[25]) ? c.s <= 2.45 : true));
  const edge = d3.area<any>().x((c) => flP.x(c.s)).y1((c) => flP.y(c.hi)).y0((c) => flP.y((c.hi + c.lo) / 2)).curve(d3.curveLinear);
  const inner = d3.area<any>().x((c) => flP.x(c.s)).y1((c) => flP.y(c.hi) + 2.8).y0((c) => Math.max(flP.y((c.hi + c.lo) / 2), flP.y(c.hi) + 2.8)).curve(d3.curveLinear);
  if (merged.length) {
    flP.plot.append('path').attr('d', edge(merged)).attr('fill', '#918f89').attr('stroke', '#918f89').attr('stroke-width', 3.4).attr('stroke-linejoin', 'round');
  }
  for (const c of solid) {
    const top = flP.y(c.hi);
    const bottom = flP.y(c.lo);
    const w = widthOf(c);
    flP.plot.append('rect').attr('x', flP.x(c.s) - w / 2).attr('y', top - 1.7).attr('width', w).attr('height', bottom - top + 3.4)
      .attr('rx', Math.min(2.4, w / 2)).attr('fill', '#918f89');
  }
  if (merged.length) flP.plot.append('path').attr('d', inner(merged)).attr('fill', 'url(#cloud)');
  for (const c of solid) {
    const top = flP.y(c.hi);
    const bottom = flP.y(c.lo);
    const w = widthOf(c);
    flP.plot.append('rect').attr('x', flP.x(c.s) - w / 2 + 0.8).attr('y', top + 2.8).attr('width', Math.max(0.5, w - 1.6)).attr('height', Math.max(0, bottom - top - 2.8))
      .attr('fill', 'url(#cloud)');
  }
  const dots = cols.filter((c) => c.hi === c.lo);
  drawRings(flP.plot, dots.map((c) => c.s), dots.map((c) => c.hi), flP.x, flP.y, PALETTE[7]);
  for (const [color, sx, fx] of scatter) drawRings(flP.plot, sx, fx, flP.x, flP.y, PALETTE[color]);
  if (tail) drawRings(flP.plot, tail[0], tail[1], flP.x, flP.y, (i: number) => PALETTE[tail[2][i]]);

  // Multifractal spectrum
  const aDom = g.aUsr || pad([...g.ba, ...g.ra]);
  const fDom = g.fUsr || pad([...g.bf, ...g.rf]);
  const spP = frame(root, xa, yb, aDom, fDom, g.aT, g.fT, 'Multifractal spectrum', 'α', 'f');
  drawCurve(spP.plot, g.ba, g.bf, spP.x, spP.y, PALETTE[3], 3.9, d3.curveCatmullRom);
  // rings crowd toward the tail of the spectrum, leaving a light band there
  if (g.ra.length && !g.scatter) drawCurve(spP.plot, g.ra.slice(-6), g.rf.slice(-6), spP.x, spP.y, PALETTE[3], 2.6, d3.curveCatmullRom, 0.45);
  drawRings(spP.plot, g.ra, g.rf, spP.x, spP.y, PALETTE[3]);
  drawCurve(spP.plot, REF_ALPHA, REF_F, spP.x, spP.y, PALETTE[2], 1.2, d3.curveCatmullRom);

  // Generalized Hurst exponent
  const hDom = g.hUsr || pad(g.h);
  const hP = frame(root, xb, yb, pad(Q_TICKS.ticks), hDom, Q_TICKS, g.hT, 'Generalized Hurst exponent', 'q', 'H');
  drawCurve(hP.plot, g.hq || Q_HURST, g.h, hP.x, hP.y, '#0c0c0c', 4.2, d3.curveMonotoneX);
  if (g.hrq) drawRings(hP.plot, g.hrq, g.hr, hP.x, hP.y, '#222');
  drawCurve(hP.plot, Q_REF, REF_H, hP.x, hP.y, PALETTE[2], 1.2, d3.curveMonotoneX);
}

export default function App() {
  const svgRef = useRef<SVGSVGElement | null>(null);

  useEffect(() => {
    const svg = d3.select(svgRef.current);
    svg.selectAll('*').remove();
    clipId = 0;
    const defs = svg.append('defs');

    // the page is a resampled figure, so everything is a little soft
    defs.append('filter').attr('id', 'soft').attr('filterUnits', 'userSpaceOnUse')
      .attr('x', 0).attr('y', 0).attr('width', 1089).attr('height', 1589)
      .append('feGaussianBlur').attr('stdDeviation', 0.4);

    // colour speckle of the overplotted rings in the fluctuation clouds
    const cloud = defs.append('pattern').attr('id', 'cloud').attr('patternUnits', 'userSpaceOnUse').attr('width', 5).attr('height', 8);
    cloud.append('rect').attr('width', 5).attr('height', 8).attr('fill', '#8f8c82');
    PALETTE.forEach((c, i) => {
      cloud.append('rect').attr('x', (i * 2) % 5).attr('y', i).attr('width', 3).attr('height', 1).attr('fill', c).attr('opacity', 0.5);
    });

    const root = svg.append('g').attr('filter', 'url(#soft)');
    root.append('rect').attr('width', 1089).attr('height', 1589).attr('fill', '#fff');
    GROUPS.forEach((g) => drawGroup(root, g));
  }, []);

  return <svg ref={svgRef} width={1089} height={1589} style={{ position: 'absolute', left: 0, top: 0 }} />;
}
